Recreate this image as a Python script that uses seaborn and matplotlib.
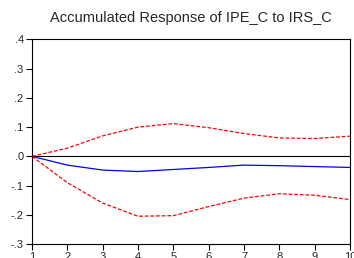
import matplotlib
matplotlib.use("Agg")
import matplotlib.pyplot as plt
import seaborn as sns
import pandas as pd

# Periods and responses
periods = [1, 2, 3, 4, 5, 6, 7, 8, 9, 10]
response = [0.0, -0.030, -0.047, -0.052, -0.045, -0.038, -0.030, -0.032, -0.035, -0.038]
upper = [0.0, 0.028, 0.070, 0.100, 0.112, 0.098, 0.078, 0.063, 0.061, 0.069]
lower = [0.0, -0.090, -0.160, -0.205, -0.203, -0.172, -0.143, -0.128, -0.133, -0.148]
y_ticks = [-0.3, -0.2, -0.1, 0.0, 0.1, 0.2, 0.3, 0.4]
y_labels = ["-.3", "-.2", "-.1", ".0", ".1", ".2", ".3", ".4"]

df = pd.DataFrame({"period": periods, "response": response, "upper": upper, "lower": lower})

sns.set_style("white")
plt.rcParams['font.family'] = ['Liberation Sans', 'DejaVu Sans']

fig = plt.figure(figsize=(3.54, 2.58), dpi=100)
ax = fig.add_axes([0.0904, 0.0543, 0.8983, 0.7927])

ax.axhline(0, color="black", lw=0.8, zorder=1)
sns.lineplot(data=df, x="period", y="response", color="blue", lw=0.9, ax=ax)
sns.lineplot(data=df, x="period", y="upper", color="red", lw=0.9, ax=ax, linestyle=(0, (3, 1.5)))
sns.lineplot(data=df, x="period", y="lower", color="red", lw=0.9, ax=ax, linestyle=(0, (3, 1.5)))

ax.set_xlim(1, 10)
ax.set_ylim(-0.3, 0.4)
ax.set_xticks(periods)
ax.set_yticks(y_ticks)
ax.set_yticklabels(y_labels)
ax.set_xlabel("")
ax.set_ylabel("")
ax.tick_params(axis="both", direction="out", length=4, width=0.8, labelsize=8,
               left=True, bottom=True, color="black", pad=2)
for s in ax.spines.values():
    s.set_color("black")
    s.set_linewidth(0.8)

fig.text(0.538, 0.93, "Accumulated Response of IPE_C to IRS_C", ha="center",
         va="center", fontsize=10.5)

fig.savefig("out.png", dpi=100)
